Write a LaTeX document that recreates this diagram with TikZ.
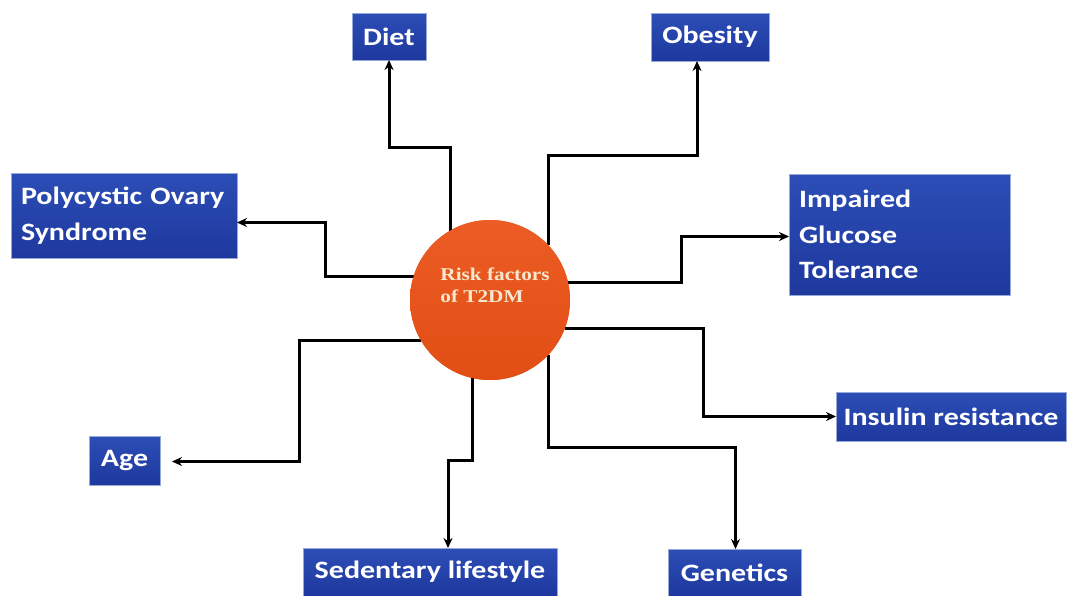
\documentclass[tikz,border=0pt]{standalone}
\usepackage{fontspec}
\setmainfont{Carlito}
\newfontfamily\boxfont{Carlito}[FakeStretch=1.2]
\newfontfamily\circfont{Liberation Serif}[FakeStretch=1.18]
\usetikzlibrary{arrows.meta,shadings}
\definecolor{boxtop}{RGB}{44,78,182}
\definecolor{boxbot}{RGB}{30,56,158}
\definecolor{boxedge}{RGB}{150,170,215}
\definecolor{orangetop}{RGB}{236,92,36}
\definecolor{orangebot}{RGB}{226,78,20}
\definecolor{cream}{RGB}{246,232,205}
\tikzset{
  factor/.style={draw=boxedge, line width=0.6pt, top color=boxtop, bottom color=boxbot,
    text=white, font=\boxfont\fontsize{25}{35.5}\selectfont\bfseries, inner sep=0pt, outer sep=0pt},
  multi/.style={factor, align=left, inner xsep=10pt},
  arr/.style={line width=3pt, draw=black, -{Stealth[length=10pt,width=9pt]}},
  hub/.style={circle, minimum size=160pt, inner sep=0pt, outer sep=0pt,
    top color=orangetop, bottom color=orangebot, draw=none},
}
\begin{document}
\begin{tikzpicture}[x=1pt,y=-1pt]
\useasboundingbox[fill=white] (0,0) rectangle (1069,595);

\node[hub] (c) at (490,300) {};

\node[factor, minimum width=74pt, minimum height=47pt] (diet) at (389,36.5) {Diet};
\node[factor, minimum width=118pt, minimum height=48pt] (obesity) at (710,37) {Obesity};
\node[multi, text width=206pt, minimum height=85pt] (poly) at (124,215.5) {Polycystic Ovary\\Syndrome};
\node[multi, text width=201pt, minimum height=121pt] (igt) at (899.5,234.5) {Impaired\\Glucose\\Tolerance};
\node[factor, minimum width=71pt, minimum height=49pt] (age) at (124.5,460.5) {Age};
\node[factor, minimum width=230pt, minimum height=49pt] (ins) at (951,416.5) {Insulin resistance};
\node[factor, minimum width=254pt, minimum height=48pt] (sed) at (430,572) {Sedentary lifestyle};
\node[factor, minimum width=133pt, minimum height=47pt] (gen) at (734.5,572.5) {Genetics};

\draw[arr] (c.120) |- ([yshift=-87pt]diet.south) -- (diet.south);
\draw[arr] (c.43.5) |- ([xshift=-13pt,yshift=-94pt]obesity.south) -- ([xshift=-13pt]obesity.south);
\draw[arr] (c.163.3) -| ([xshift=88pt,yshift=-7pt]poly.east) -- ([yshift=-7pt]poly.east);
\draw[arr] (c.13) -| ([xshift=-108pt,yshift=-2pt]igt.west) -- ([yshift=-2pt]igt.west);
\draw[arr] (c.210.8) -| ([xshift=139pt,yshift=-1pt]age.east) -- ([xshift=12pt,yshift=-1pt]age.east);
\draw[arr] (c.339.5) -| ([xshift=-133pt]ins.west) -- (ins.west);
\draw[arr] (c.257) |- ([xshift=18pt,yshift=88pt]sed.north) -- ([xshift=18pt]sed.north);
\draw[arr] (c.317.5) |- ([xshift=1pt,yshift=102pt]gen.north) -- ([xshift=1pt]gen.north);

\node[hub] at (c.center) {};
\node[text=cream, font=\circfont\fontsize{18}{22}\selectfont\bfseries, align=left, inner sep=0pt] (ctext) at (495,285) {Risk factors\\of T2DM};
\end{tikzpicture}
\end{document}
